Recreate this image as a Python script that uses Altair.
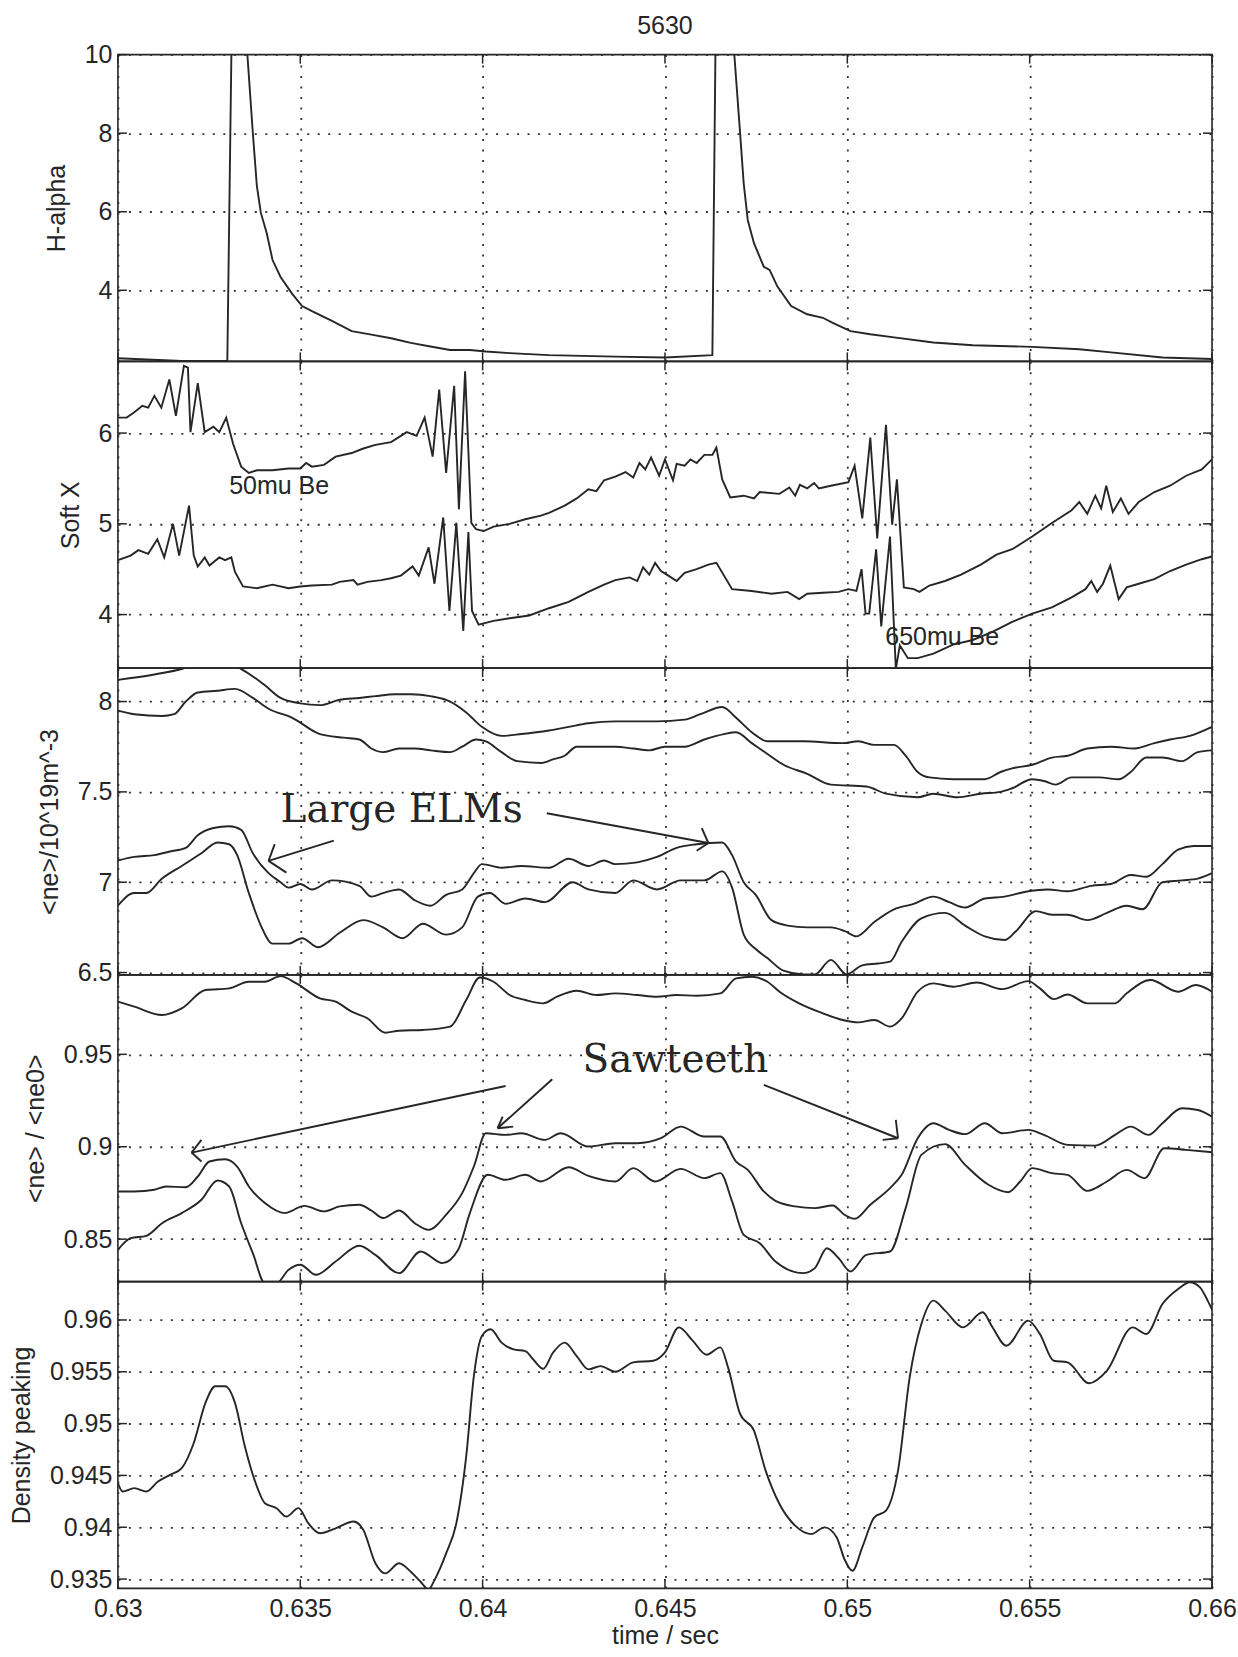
import altair as alt
import pandas as pd

# ---------------------------------------------------------------- layout ----
W, H = 1095, 307          # plot area of every panel
TICK = 9                  # length of the inward tick marks
INK = "#262626"
SANS = "Liberation Sans"
SERIF = "DejaVu Serif"
LINE_W = 1.9

TIME_DOMAIN = [0.63, 0.66]
TIME_TICKS = [0.63, 0.635, 0.64, 0.645, 0.65, 0.655, 0.66]

# ------------------------------------------------------------ H-alpha -------
HALPHA = [
    (0.63, 2.27), (0.63175, 2.20), (0.633, 2.20), (0.63312, 10.6), (0.63352, 10.4),
    (0.6337, 8.0), (0.63381, 6.66), (0.63392, 5.97), (0.63408, 5.46), (0.63424, 4.77),
    (0.63446, 4.34), (0.63478, 3.91), (0.63505, 3.60), (0.63532, 3.47), (0.63587, 3.22),
    (0.63641, 2.96), (0.63695, 2.87), (0.63749, 2.78), (0.63803, 2.66), (0.63857, 2.57),
    (0.63911, 2.48), (0.63965, 2.48), (0.64009, 2.44), (0.64074, 2.40), (0.64182, 2.35),
    (0.64364, 2.31), (0.645, 2.29), (0.6463, 2.35), (0.64639, 10.6), (0.64687, 10.4),
    (0.64706, 8.0), (0.64716, 6.71), (0.64727, 5.79), (0.64744, 5.20), (0.64771, 4.60),
    (0.64787, 4.52), (0.64808, 4.10), (0.64846, 3.60), (0.6489, 3.39), (0.64933, 3.30),
    (0.6496, 3.17), (0.65009, 2.96), (0.65063, 2.88), (0.65128, 2.80), (0.65236, 2.67),
    (0.65344, 2.60), (0.65507, 2.56), (0.65636, 2.50), (0.65723, 2.42), (0.65864, 2.29),
    (0.66, 2.25),
]

# ------------------------------------------------------------ Soft X --------
SXR_50MU = [
    (0.63, 6.17), (0.63024, 6.17), (0.63045, 6.23), (0.63067, 6.30), (0.63083, 6.28),
    (0.631, 6.41), (0.63119, 6.28), (0.63141, 6.59), (0.63159, 6.19), (0.63181, 6.74),
    (0.63192, 6.72), (0.63199, 6.01), (0.63219, 6.55), (0.63238, 6.01), (0.63262, 6.07),
    (0.63278, 6.01), (0.63297, 6.17), (0.63316, 5.88), (0.63338, 5.63), (0.63359, 5.56),
    (0.63381, 5.59), (0.63424, 5.59), (0.63468, 5.61), (0.635, 5.61), (0.63516, 5.67),
    (0.63532, 5.63), (0.63565, 5.65), (0.63597, 5.74), (0.63641, 5.78), (0.63673, 5.83),
    (0.63706, 5.87), (0.63749, 5.90), (0.63792, 6.01), (0.63819, 5.97), (0.63841, 6.17),
    (0.63863, 5.74), (0.63881, 6.48), (0.639, 5.56), (0.63922, 6.52), (0.63935, 5.16),
    (0.63952, 6.68), (0.63969, 5.01), (0.63982, 4.94), (0.64003, 4.92), (0.6403, 4.97),
    (0.64074, 5.00), (0.64117, 5.05), (0.6416, 5.09), (0.64182, 5.12), (0.64225, 5.20),
    (0.64258, 5.28), (0.6429, 5.38), (0.64312, 5.36), (0.64333, 5.48), (0.64364, 5.52),
    (0.64392, 5.57), (0.64413, 5.51), (0.6443, 5.67), (0.64446, 5.60), (0.64462, 5.73),
    (0.64484, 5.53), (0.645, 5.71), (0.64522, 5.48), (0.64532, 5.66), (0.64554, 5.64),
    (0.6457, 5.71), (0.64587, 5.67), (0.64608, 5.76), (0.6463, 5.76), (0.64641, 5.84),
    (0.64657, 5.49), (0.64679, 5.29), (0.64716, 5.31), (0.64744, 5.28), (0.6476, 5.35),
    (0.64814, 5.33), (0.64841, 5.40), (0.64857, 5.31), (0.6487, 5.43), (0.6489, 5.39),
    (0.64909, 5.45), (0.64922, 5.39), (0.64955, 5.42), (0.65003, 5.46), (0.6502, 5.64),
    (0.65041, 5.06), (0.65063, 5.95), (0.65082, 4.84), (0.65106, 6.09), (0.65123, 4.99),
    (0.65136, 5.49), (0.65155, 4.30), (0.65182, 4.28), (0.65198, 4.25), (0.65225, 4.32),
    (0.65268, 4.37), (0.65312, 4.44), (0.65366, 4.55), (0.65409, 4.66), (0.65452, 4.72),
    (0.65507, 4.86), (0.65561, 5.01), (0.65615, 5.15), (0.65636, 5.24), (0.65658, 5.11),
    (0.6568, 5.31), (0.65696, 5.17), (0.6571, 5.42), (0.65728, 5.13), (0.6575, 5.28),
    (0.65771, 5.11), (0.65799, 5.24), (0.65842, 5.35), (0.65885, 5.42), (0.65929, 5.53),
    (0.65972, 5.60), (0.66, 5.71),
]
SXR_650MU = [
    (0.63, 4.60), (0.63035, 4.65), (0.63056, 4.71), (0.63083, 4.67), (0.63108, 4.83),
    (0.63127, 4.63), (0.63151, 5.00), (0.63168, 4.65), (0.63195, 5.20), (0.63208, 4.65),
    (0.63219, 4.53), (0.63238, 4.63), (0.63251, 4.54), (0.63278, 4.63), (0.63294, 4.60),
    (0.63311, 4.63), (0.63321, 4.47), (0.63343, 4.31), (0.63381, 4.29), (0.63424, 4.33),
    (0.63468, 4.29), (0.635, 4.31), (0.63532, 4.32), (0.63587, 4.33), (0.63608, 4.36),
    (0.63646, 4.38), (0.63657, 4.33), (0.63684, 4.36), (0.63722, 4.38), (0.63749, 4.40),
    (0.63776, 4.43), (0.63808, 4.53), (0.63825, 4.43), (0.63852, 4.74), (0.63868, 4.34),
    (0.63892, 5.07), (0.63909, 4.04), (0.63928, 5.01), (0.63947, 3.82), (0.63961, 4.91),
    (0.63971, 4.04), (0.63989, 3.89), (0.6403, 3.93), (0.64074, 3.96), (0.64128, 3.99),
    (0.64182, 4.07), (0.64236, 4.14), (0.6429, 4.25), (0.64333, 4.33), (0.64364, 4.38),
    (0.64403, 4.41), (0.64424, 4.37), (0.6444, 4.52), (0.64457, 4.44), (0.64473, 4.57),
    (0.64489, 4.48), (0.64505, 4.44), (0.64532, 4.37), (0.64554, 4.46), (0.64587, 4.50),
    (0.64619, 4.55), (0.64641, 4.57), (0.64684, 4.28), (0.64738, 4.26), (0.64792, 4.23),
    (0.64836, 4.25), (0.64868, 4.17), (0.6489, 4.23), (0.64933, 4.24), (0.64976, 4.25),
    (0.65003, 4.28), (0.65025, 4.26), (0.65039, 4.50), (0.6505, 4.01), (0.6506, 4.01),
    (0.65079, 4.72), (0.65093, 3.87), (0.65117, 4.86), (0.65133, 3.40), (0.65144, 3.66),
    (0.65166, 3.52), (0.65193, 3.52), (0.65236, 3.57), (0.6529, 3.67), (0.65344, 3.72),
    (0.65398, 3.81), (0.65452, 3.92), (0.65507, 4.01), (0.65561, 4.08), (0.65615, 4.19),
    (0.65653, 4.28), (0.65669, 4.37), (0.65685, 4.25), (0.65701, 4.34), (0.65721, 4.54),
    (0.65744, 4.17), (0.65766, 4.30), (0.65799, 4.34), (0.65842, 4.39), (0.65885, 4.48),
    (0.65929, 4.55), (0.65972, 4.61), (0.66, 4.64),
]

# --------------------------------------------- line density <ne> (4 chords) --
NE_1 = [
    (0.63, 8.12), (0.631, 8.15), (0.63175, 8.18), (0.63208, 8.20), (0.63316, 8.20),
    (0.63338, 8.18), (0.63403, 8.09), (0.63446, 8.02), (0.635, 7.99), (0.63554, 7.98),
    (0.63608, 8.01), (0.63662, 8.02), (0.63706, 8.03), (0.6376, 8.04), (0.63803, 8.04),
    (0.63857, 8.03), (0.63911, 8.00), (0.63955, 7.94), (0.63998, 7.86), (0.64052, 7.81),
    (0.64106, 7.82), (0.64182, 7.84), (0.64236, 7.86), (0.6429, 7.88), (0.64364, 7.89),
    (0.64478, 7.89), (0.64554, 7.90), (0.64597, 7.93), (0.64657, 7.97), (0.64695, 7.91),
    (0.64738, 7.83), (0.64781, 7.78), (0.64879, 7.78), (0.64987, 7.77), (0.6503, 7.78),
    (0.65074, 7.76), (0.65128, 7.76), (0.6516, 7.70), (0.65193, 7.61), (0.65225, 7.58),
    (0.6529, 7.57), (0.65377, 7.57), (0.6542, 7.61), (0.65452, 7.63), (0.65507, 7.65),
    (0.65561, 7.69), (0.65604, 7.70), (0.65658, 7.74), (0.65723, 7.75), (0.65788, 7.74),
    (0.65842, 7.77), (0.65885, 7.79), (0.65939, 7.81), (0.66, 7.86),
]
NE_2 = [
    (0.63, 7.95), (0.63045, 7.93), (0.63121, 7.92), (0.63154, 7.93), (0.63186, 8.00),
    (0.63219, 8.05), (0.63273, 8.06), (0.63321, 8.07), (0.6337, 8.02), (0.63413, 7.96),
    (0.63478, 7.91), (0.63554, 7.82), (0.63619, 7.80), (0.63662, 7.79), (0.63695, 7.74),
    (0.63727, 7.72), (0.63771, 7.74), (0.63814, 7.74), (0.63857, 7.73), (0.63911, 7.72),
    (0.63944, 7.75), (0.63982, 7.79), (0.64009, 7.78), (0.64052, 7.72), (0.64095, 7.67),
    (0.6416, 7.66), (0.64193, 7.68), (0.64225, 7.70), (0.64258, 7.75), (0.64312, 7.75),
    (0.64364, 7.75), (0.64413, 7.74), (0.64457, 7.73), (0.645, 7.75), (0.64554, 7.75),
    (0.64608, 7.79), (0.64662, 7.82), (0.64695, 7.83), (0.64738, 7.77), (0.64781, 7.71),
    (0.64825, 7.65), (0.6489, 7.60), (0.64955, 7.54), (0.65052, 7.53), (0.65106, 7.49),
    (0.65193, 7.47), (0.65236, 7.49), (0.65301, 7.47), (0.65366, 7.49), (0.6542, 7.50),
    (0.65452, 7.52), (0.65507, 7.57), (0.65539, 7.56), (0.65571, 7.54), (0.65615, 7.58),
    (0.6569, 7.58), (0.65744, 7.57), (0.65777, 7.61), (0.6582, 7.69), (0.65864, 7.69),
    (0.65918, 7.67), (0.65961, 7.72), (0.66, 7.73),
]
NE_3 = [
    (0.63, 7.12), (0.63045, 7.14), (0.631, 7.15), (0.63143, 7.17), (0.63186, 7.19),
    (0.63219, 7.26), (0.63262, 7.30), (0.63305, 7.31), (0.63338, 7.29), (0.6337, 7.16),
    (0.63413, 7.05), (0.63446, 7.00), (0.63468, 6.97), (0.635, 6.99), (0.63532, 6.96),
    (0.63587, 7.01), (0.63662, 6.98), (0.63695, 6.92), (0.63727, 6.94), (0.63771, 6.96),
    (0.63814, 6.90), (0.63857, 6.87), (0.639, 6.93), (0.63944, 6.96), (0.63976, 7.05),
    (0.63998, 7.10), (0.64052, 7.08), (0.64106, 7.09), (0.64182, 7.08), (0.64236, 7.13),
    (0.6429, 7.09), (0.64333, 7.12), (0.64364, 7.10), (0.64424, 7.11), (0.64478, 7.14),
    (0.64532, 7.19), (0.64587, 7.21), (0.64657, 7.22), (0.64684, 7.15), (0.64716, 7.00),
    (0.64749, 6.93), (0.64792, 6.79), (0.64836, 6.76), (0.6489, 6.75), (0.64955, 6.75),
    (0.64992, 6.73), (0.65025, 6.70), (0.65074, 6.78), (0.65128, 6.85), (0.65182, 6.88),
    (0.65236, 6.92), (0.65279, 6.89), (0.65323, 6.86), (0.65377, 6.91), (0.65431, 6.92),
    (0.65496, 6.95), (0.6555, 6.96), (0.65604, 6.95), (0.65669, 6.98), (0.65723, 6.99),
    (0.65777, 7.04), (0.6582, 7.03), (0.65864, 7.10), (0.65907, 7.18), (0.6595, 7.20),
    (0.66, 7.20),
]
NE_4 = [
    (0.63, 6.87), (0.63045, 6.94), (0.63078, 6.94), (0.63121, 7.02), (0.63175, 7.09),
    (0.63229, 7.16), (0.63273, 7.22), (0.63305, 7.21), (0.63327, 7.15), (0.63359, 6.94),
    (0.63392, 6.76), (0.63424, 6.66), (0.63468, 6.66), (0.63505, 6.69), (0.63549, 6.64),
    (0.63608, 6.72), (0.63673, 6.79), (0.63727, 6.75), (0.63781, 6.69), (0.63836, 6.77),
    (0.639, 6.71), (0.63944, 6.75), (0.63987, 6.92), (0.6402, 6.94), (0.64063, 6.88),
    (0.64117, 6.91), (0.64171, 6.89), (0.64247, 7.00), (0.6429, 6.96), (0.64364, 6.94),
    (0.64413, 7.01), (0.64478, 6.96), (0.64543, 7.01), (0.64608, 7.01), (0.64657, 7.06),
    (0.64684, 6.97), (0.64716, 6.71), (0.64749, 6.63), (0.64781, 6.58), (0.64825, 6.51),
    (0.64879, 6.49), (0.64911, 6.49), (0.64955, 6.57), (0.64998, 6.49), (0.65041, 6.54),
    (0.65084, 6.55), (0.65117, 6.56), (0.65149, 6.67), (0.65203, 6.80), (0.65268, 6.83),
    (0.65323, 6.76), (0.65377, 6.70), (0.65431, 6.68), (0.65463, 6.73), (0.65517, 6.84),
    (0.65561, 6.82), (0.65604, 6.82), (0.65658, 6.79), (0.65712, 6.83), (0.65766, 6.87),
    (0.6581, 6.85), (0.65864, 7.00), (0.65918, 7.01), (0.65961, 7.02), (0.66, 7.05),
]

# ------------------------------------------------ normalised <ne>/<ne0> -----
NR_1 = [
    (0.63, 0.9785), (0.63045, 0.9758), (0.63121, 0.9713), (0.63175, 0.9749),
    (0.6324, 0.9848), (0.63305, 0.9857), (0.63359, 0.9893), (0.63403, 0.9893),
    (0.63446, 0.9923), (0.63489, 0.9884), (0.63554, 0.9803), (0.63597, 0.9785),
    (0.63641, 0.9731), (0.63684, 0.9695), (0.63733, 0.9617), (0.63771, 0.9628),
    (0.63836, 0.9632), (0.63911, 0.9650), (0.63955, 0.9794), (0.63992, 0.9916),
    (0.6403, 0.9893), (0.64074, 0.9821), (0.64117, 0.9794), (0.64166, 0.9776),
    (0.64204, 0.9812), (0.64258, 0.9844), (0.64312, 0.9821), (0.64364, 0.9830),
    (0.64424, 0.9821), (0.64478, 0.9812), (0.64532, 0.9821), (0.64587, 0.9817),
    (0.64652, 0.9830), (0.64695, 0.9911), (0.64738, 0.9920), (0.64781, 0.9893),
    (0.64814, 0.9839), (0.64868, 0.9776), (0.64933, 0.9722), (0.64987, 0.9686),
    (0.6503, 0.9673), (0.65074, 0.9686), (0.65117, 0.9650), (0.65149, 0.9695),
    (0.65193, 0.9839), (0.65236, 0.9884), (0.6529, 0.9866), (0.65355, 0.9889),
    (0.65425, 0.9853), (0.65496, 0.9896), (0.65528, 0.9857), (0.65566, 0.9799),
    (0.65604, 0.9824), (0.65658, 0.9776), (0.65734, 0.9776), (0.65766, 0.9830),
    (0.65831, 0.9902), (0.65907, 0.9839), (0.65956, 0.9875), (0.66, 0.9839),
]
NR_2 = [
    (0.63, 0.8758), (0.63045, 0.8758), (0.631, 0.8767), (0.63132, 0.8785),
    (0.63186, 0.8781), (0.63219, 0.8839), (0.63251, 0.8920), (0.63294, 0.8932),
    (0.63327, 0.8893), (0.63359, 0.8785), (0.63403, 0.8695), (0.63457, 0.8641),
    (0.63511, 0.8680), (0.63565, 0.8650), (0.63608, 0.8677), (0.63662, 0.8686),
    (0.63695, 0.8655), (0.63727, 0.8614), (0.63771, 0.8655), (0.63814, 0.8586),
    (0.63852, 0.8550), (0.639, 0.8632), (0.63944, 0.8749), (0.63976, 0.8893),
    (0.64009, 0.9073), (0.64063, 0.9064), (0.64106, 0.9073), (0.64171, 0.9037),
    (0.64214, 0.9073), (0.6429, 0.9001), (0.64364, 0.9019), (0.64424, 0.9019),
    (0.64489, 0.9046), (0.64543, 0.9109), (0.64608, 0.9055), (0.64652, 0.9055),
    (0.64695, 0.8920), (0.64727, 0.8875), (0.64771, 0.8758), (0.64803, 0.8707),
    (0.64857, 0.8677), (0.64911, 0.8668), (0.6496, 0.8682), (0.64992, 0.8632),
    (0.6502, 0.8610), (0.65063, 0.8686), (0.65117, 0.8776), (0.65149, 0.8848),
    (0.65193, 0.9046), (0.65236, 0.9127), (0.65279, 0.9091), (0.65323, 0.9068),
    (0.65377, 0.9127), (0.65425, 0.9073), (0.65496, 0.9091), (0.65539, 0.9064),
    (0.65604, 0.9010), (0.6568, 0.9006), (0.65734, 0.9064), (0.65777, 0.9109),
    (0.65826, 0.9064), (0.65864, 0.9127), (0.65918, 0.9208), (0.65961, 0.9199),
    (0.66, 0.9163),
]
NR_3 = [
    (0.63, 0.8442), (0.63035, 0.8505), (0.63078, 0.8518), (0.63121, 0.8586),
    (0.63175, 0.8641), (0.63229, 0.8713), (0.63273, 0.8817), (0.63305, 0.8785),
    (0.63338, 0.8586), (0.6337, 0.8424), (0.63403, 0.8262), (0.63435, 0.8262),
    (0.63468, 0.8334), (0.635, 0.8361), (0.63543, 0.8307), (0.63597, 0.8379),
    (0.63662, 0.8464), (0.63706, 0.8415), (0.63771, 0.8316), (0.6383, 0.8433),
    (0.6389, 0.8370), (0.63933, 0.8442), (0.63965, 0.8641), (0.64014, 0.8848),
    (0.64063, 0.8821), (0.64117, 0.8848), (0.6416, 0.8812), (0.64236, 0.8889),
    (0.6429, 0.8842), (0.64364, 0.8812), (0.64413, 0.8884), (0.64473, 0.8812),
    (0.64543, 0.8880), (0.64608, 0.8830), (0.64652, 0.8857), (0.64684, 0.8704),
    (0.64716, 0.8523), (0.6476, 0.8478), (0.64803, 0.8379), (0.64879, 0.8316),
    (0.64911, 0.8343), (0.64944, 0.8451), (0.64976, 0.8397), (0.65009, 0.8325),
    (0.65052, 0.8415), (0.65117, 0.8433), (0.6516, 0.8668), (0.65203, 0.8956),
    (0.65268, 0.9014), (0.65323, 0.8902), (0.65387, 0.8794), (0.65441, 0.8754),
    (0.65474, 0.8812), (0.65507, 0.8884), (0.65561, 0.8857), (0.65604, 0.8848),
    (0.65658, 0.8761), (0.65712, 0.8812), (0.65766, 0.8875), (0.65815, 0.8830),
    (0.65869, 0.8992), (0.65929, 0.8983), (0.66, 0.8970),
]

# ------------------------------------------------------- density peaking ----
PEAKING = [
    (0.63, 0.94426), (0.63013, 0.94345), (0.63045, 0.94377), (0.63078, 0.94345),
    (0.6311, 0.94442), (0.63143, 0.94506), (0.63175, 0.94571), (0.63208, 0.94813),
    (0.6324, 0.95200), (0.63267, 0.95361), (0.63294, 0.95361), (0.63321, 0.95200),
    (0.63348, 0.94781), (0.63381, 0.94394), (0.63403, 0.94232), (0.63435, 0.94184),
    (0.63462, 0.94103), (0.63495, 0.94184), (0.63522, 0.94039), (0.63554, 0.93942),
    (0.63597, 0.93990), (0.63646, 0.94055), (0.63673, 0.93974), (0.63706, 0.93652),
    (0.63733, 0.93555), (0.63771, 0.93652), (0.63803, 0.93571), (0.6383, 0.93474),
    (0.63852, 0.93400), (0.63868, 0.93490), (0.639, 0.93748), (0.63928, 0.94039),
    (0.63955, 0.94684), (0.63976, 0.95458), (0.63998, 0.95845), (0.64022, 0.95910),
    (0.64052, 0.95781), (0.64085, 0.95716), (0.64117, 0.95700), (0.64139, 0.95619),
    (0.64166, 0.95529), (0.64193, 0.95684), (0.64225, 0.95781), (0.64258, 0.95652),
    (0.6429, 0.95523), (0.64323, 0.95555), (0.64364, 0.95500), (0.64413, 0.95591),
    (0.64468, 0.95607), (0.645, 0.95688), (0.64538, 0.95929), (0.64576, 0.95801),
    (0.64614, 0.95665), (0.64652, 0.95736), (0.64673, 0.95543), (0.64706, 0.95093),
    (0.64744, 0.94932), (0.64776, 0.94546), (0.64814, 0.94224), (0.64857, 0.94015),
    (0.649, 0.93934), (0.64938, 0.93999), (0.64971, 0.93902), (0.64992, 0.93693),
    (0.65014, 0.93580), (0.65041, 0.93806), (0.65074, 0.94095), (0.65106, 0.94160),
    (0.65139, 0.94546), (0.65171, 0.95447), (0.65203, 0.95961), (0.65236, 0.96187),
    (0.65268, 0.96090), (0.65317, 0.95929), (0.65371, 0.96074), (0.65398, 0.95929),
    (0.65436, 0.95752), (0.65496, 0.95994), (0.65528, 0.95865), (0.65566, 0.95607),
    (0.65604, 0.95591), (0.65663, 0.95389), (0.65712, 0.95511), (0.65782, 0.95929),
    (0.6582, 0.95865), (0.65864, 0.96154), (0.65907, 0.96299), (0.65939, 0.96364),
    (0.65967, 0.96315), (0.65988, 0.96187), (0.66, 0.96100),
]

# ---------------------------------------------------------- annotations -----
SXR_LABELS = [("50mu Be", 0.63305, 5.42), ("650mu Be", 0.65104, 3.75)]
ELM_LABEL = [("Large ELMs", 0.63446, 7.335)]
SAW_LABEL = [("Sawteeth", 0.64274, 0.9406)]
# arrow shafts and barbs: (t1, v1, t2, v2)
ELM_ARROWS = [
    (0.63592, 7.230, 0.63413, 7.118), (0.63413, 7.118, 0.63430, 7.211),
    (0.63413, 7.118, 0.63462, 7.053),
    (0.64176, 7.382, 0.64619, 7.217), (0.64619, 7.217, 0.64601, 7.300),
    (0.64619, 7.217, 0.64587, 7.174),
]
SAW_ARROWS = [
    (0.64063, 0.93288, 0.63202, 0.89685), (0.63202, 0.89685, 0.63229, 0.9037),
    (0.63202, 0.89685, 0.63229, 0.8920),
    (0.64191, 0.93649, 0.64041, 0.9100), (0.64041, 0.9100, 0.64055, 0.9163),
    (0.64041, 0.9100, 0.64084, 0.9109),
    (0.64771, 0.93342, 0.65139, 0.90459), (0.65139, 0.90459, 0.65133, 0.9145),
    (0.65139, 0.90459, 0.65097, 0.9037),
]


def traces(**series):
    rows = [{"s": name, "t": t, "v": v}
            for name, pts in series.items() for t, v in pts]
    return pd.DataFrame(rows)


def labels_frame(items):
    return pd.DataFrame(items, columns=["label", "t", "v"])


def arrows_frame(items):
    return pd.DataFrame(items, columns=["t1", "v1", "t2", "v2"])


def panel(data, domain, yticks, ytitle, interp, bottom=False, extras=(), title=None):
    xs = alt.Scale(domain=TIME_DOMAIN, nice=False, zero=False)
    ys = alt.Scale(domain=domain, nice=False, zero=False)
    if bottom:
        x_axis = alt.Axis(values=TIME_TICKS, format=".4~f", grid=True,
                          title="time / sec", labelFlush=False)
    else:
        x_axis = alt.Axis(values=TIME_TICKS, format=".4~f", grid=True,
                          labels=False, title=None)
    y_axis = alt.Axis(values=yticks, format=".4~f", grid=True, title=ytitle)

    # every layer carries the same axis definition so that they merge cleanly
    def xenc(field):
        return alt.X(field, type="quantitative", scale=xs, axis=x_axis)

    def yenc(field):
        return alt.Y(field, type="quantitative", scale=ys, axis=y_axis)

    lines = alt.Chart(data).mark_line(
        color=INK, strokeWidth=LINE_W, clip=True, interpolate=interp
    ).encode(x=xenc("t"), y=yenc("v"), detail="s:N")

    # MATLAB-style inward ticks on all four sides
    ytk = pd.DataFrame({"v": yticks})
    xtk = pd.DataFrame({"t": TIME_TICKS})
    rule = dict(color=INK, strokeWidth=1.5)
    ticks = [
        alt.Chart(ytk).mark_rule(**rule).encode(y=yenc("v"), x=alt.value(0), x2=alt.value(TICK)),
        alt.Chart(ytk).mark_rule(**rule).encode(y=yenc("v"), x=alt.value(W - TICK), x2=alt.value(W)),
        alt.Chart(xtk).mark_rule(**rule).encode(x=xenc("t"), y=alt.value(0), y2=alt.value(TICK)),
        alt.Chart(xtk).mark_rule(**rule).encode(x=xenc("t"), y=alt.value(H - TICK), y2=alt.value(H)),
    ]

    layers = [lines] + ticks
    for kind, frame, style in extras:
        if kind == "text":
            layers.append(
                alt.Chart(frame).mark_text(color=INK, align="left", **style).encode(
                    x=xenc("t"), y=yenc("v"), text="label:N",
                )
            )
        else:
            layers.append(
                alt.Chart(frame).mark_rule(color=INK, strokeWidth=LINE_W).encode(
                    x=xenc("t1"), y=yenc("v1"), x2="t2:Q", y2="v2:Q",
                )
            )
    chart = alt.layer(*layers).properties(width=W, height=H)
    if title is not None:
        chart = chart.properties(title=title)
    return chart


p_halpha = panel(
    traces(ha=HALPHA), [2.19, 10.0], [4, 6, 8, 10], "H-alpha", "linear",
    title=alt.TitleParams("5630", font=SANS, fontSize=25, fontWeight="normal",
                          color=INK, anchor="middle", frame="group", offset=4),
)
p_sxr = panel(
    traces(a=SXR_50MU, b=SXR_650MU), [3.41, 6.79], [4, 5, 6], "Soft X", "linear",
    extras=[("text", labels_frame(SXR_LABELS),
             dict(font=SANS, fontSize=25, baseline="middle"))],
)
p_ne = panel(
    traces(a=NE_1, b=NE_2, c=NE_3, d=NE_4), [6.487, 8.185], [6.5, 7, 7.5, 8],
    "<ne>/10^19m^-3", "monotone",
    extras=[("text", labels_frame(ELM_LABEL),
             dict(font=SERIF, fontSize=39, baseline="alphabetic")),
            ("arrow", arrows_frame(ELM_ARROWS), None)],
)
p_norm = panel(
    traces(a=NR_1, b=NR_2, c=NR_3), [0.827, 0.993], [0.85, 0.9, 0.95],
    "<ne> / <ne0>", "monotone",
    extras=[("text", labels_frame(SAW_LABEL),
             dict(font=SERIF, fontSize=39, baseline="alphabetic")),
            ("arrow", arrows_frame(SAW_ARROWS), None)],
)
p_peak = panel(
    traces(p=PEAKING), [0.9341, 0.9637], [0.935, 0.94, 0.945, 0.95, 0.955, 0.96],
    "Density peaking", "monotone", bottom=True,
)

chart = (
    alt.vconcat(p_halpha, p_sxr, p_ne, p_norm, p_peak, spacing=0, bounds="flush")
    .properties(padding={"left": 8, "top": 12, "right": 0, "bottom": 2})
    .configure_view(stroke=INK, strokeWidth=1.6)
    .configure_axis(
        labelFont=SANS, labelFontSize=25, labelColor=INK,
        titleFont=SANS, titleFontSize=25, titleFontWeight="normal", titleColor=INK,
        gridColor="#333333", gridDash=[2, 8.5], gridWidth=1.8, gridOpacity=1,
        domain=False, ticks=False,
    )
    .configure_axisX(labelPadding=8, titlePadding=2)
    .configure_axisY(labelPadding=6, titlePadding=15)
)

chart.save("out.html", embed_options={"renderer": "svg", "actions": False})
